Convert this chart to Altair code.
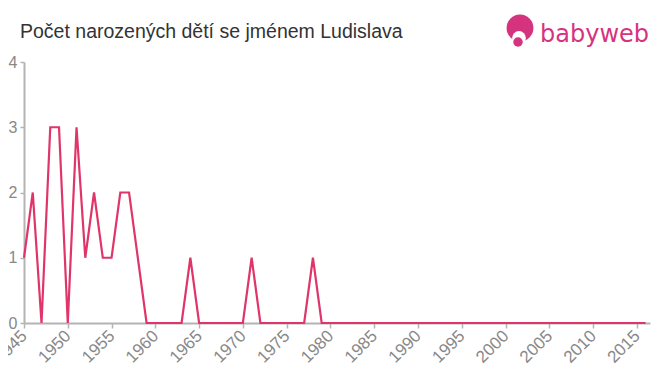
import altair as alt
import pandas as pd

years = list(range(1945, 2017))
counts = [1, 2, 0, 3, 3, 0, 3, 1, 2, 1, 1, 2, 2, 1, 0,
          0, 0, 0, 0, 1, 0, 0, 0, 0, 0, 0, 1, 0, 0, 0, 0, 0, 0, 1, 0] + [0] * (2016 - 1979)
title_text = "Počet narozených dětí se jménem Ludislava"
logo_text = "babyweb"
x_ticks = list(range(1945, 2016, 5))
y_ticks = [0, 1, 2, 3, 4]

df = pd.DataFrame({"rok": years, "pocet": counts})

W, H = 626, 261
FONT = "Liberation Sans"
PINK = "#d6337e"

line = alt.Chart(df).mark_line(color="#e0356a", strokeWidth=2.2, clip=False).encode(
    x=alt.X("rok:Q", scale=alt.Scale(domain=[1945, 2016.5], nice=False, zero=False),
            axis=alt.Axis(values=x_ticks, format="d", title=None, labelAngle=-45,
                          labelAlign="right", labelBaseline="middle", labelPadding=5,
                          labelFontSize=17, labelColor="#888", domainColor="#b4b4b4",
                          tickColor="#b4b4b4", tickSize=5, grid=False, labelFont=FONT,
                          domainWidth=2, tickWidth=1.5,
                          labelOverlap=False, labelBound=False, labelFlush=False)),
    y=alt.Y("pocet:Q", scale=alt.Scale(domain=[0, 4], nice=False),
            axis=alt.Axis(values=y_ticks, title=None, labelFontSize=16, labelColor="#888",
                          domainColor="#b4b4b4", tickColor="#b4b4b4", tickSize=4, grid=False,
                          domainWidth=2, tickWidth=1.5,
                          labelFont=FONT, labelPadding=3)),
)

one = pd.DataFrame({"t": [title_text]})
title = alt.Chart(one).mark_text(align="left", baseline="alphabetic", fontSize=19.5,
                                 font=FONT, color="#333").encode(
    x=alt.value(-4), y=alt.value(-24), text="t:N")

logo_df = pd.DataFrame({"t": [logo_text]})
logo = alt.Chart(logo_df).mark_text(align="left", baseline="alphabetic", fontSize=24,
                                    font="DejaVu Sans", color=PINK).encode(
    x=alt.value(516), y=alt.value(-20), text="t:N")

circ_big = alt.Chart(logo_df).mark_circle(color=PINK, opacity=1, size=720).encode(
    x=alt.value(496), y=alt.value(-34))
circ_face = alt.Chart(logo_df).mark_circle(color="white", opacity=1, size=190).encode(
    x=alt.value(495), y=alt.value(-24))
circ_dot = alt.Chart(logo_df).mark_circle(color=PINK, opacity=1, size=90).encode(
    x=alt.value(494), y=alt.value(-20))

chart = alt.layer(line, title, circ_big, circ_face, circ_dot, logo).properties(
    width=W, height=H,
    background="white",
    autosize=alt.AutoSizeParams(type="none"),
    padding={"left": 16, "top": 54, "right": 2, "bottom": 44},
).configure_view(stroke="transparent", strokeWidth=0)

chart.save("out.html", embed_options={"renderer": "svg", "actions": False})
